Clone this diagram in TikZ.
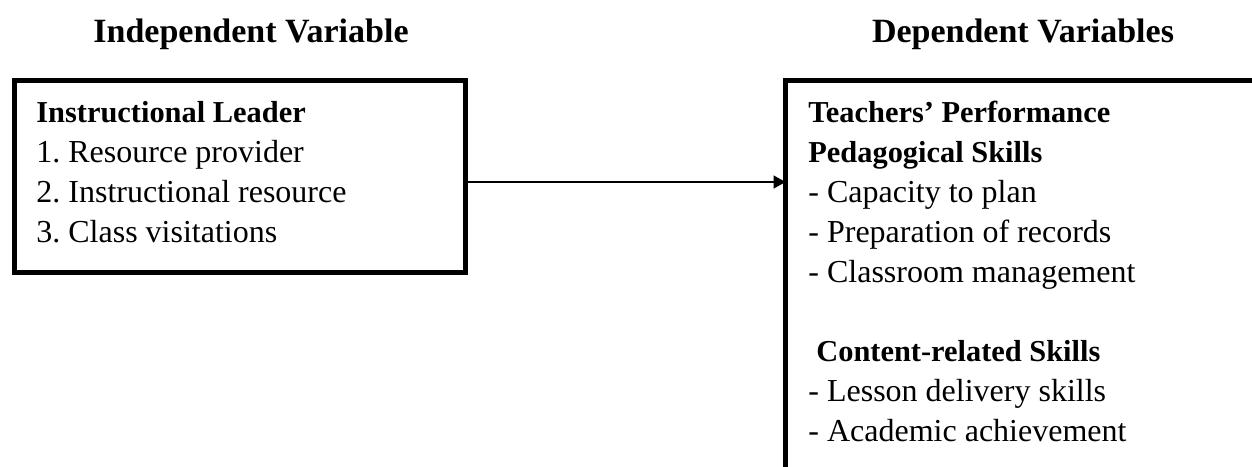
\documentclass[tikz,border=0pt]{standalone}
\usepackage{fontspec}
\setmainfont{Liberation Serif}
\usetikzlibrary{positioning,arrows.meta}
\frenchspacing
\begin{document}
\begin{tikzpicture}[x=0.5pt,y=-0.5pt]
% page frame
\useasboundingbox (0,0) rectangle (1252,466);
\clip (0,0) rectangle (1252,466);

\tikzstyle{head} = [font=\fontsize{17}{20}\selectfont\bfseries, inner sep=0pt, anchor=base]
\tikzstyle{frame} = [draw, shape=rectangle, line width=2.5pt, inner sep=0pt, outer sep=0pt, anchor=north west]
\tikzstyle{body} = [font=\fontsize{16}{20}\selectfont, inner sep=0pt, anchor=base west]
\tikzstyle{bodyb} = [body, font=\fontsize{15.2}{20}\selectfont\bfseries]
\tikzstyle{arr} = [-{Triangle[length=6pt,width=6.5pt]}, line width=0.75pt]

% headings
\node[head] (indep) at (251,42) {Independent Variable};
\node[head] (dep) at (1023,42) {Dependent Variables};

% boxes
\node[frame, minimum width=225.5pt, minimum height=96pt] (leader) at (14,80) {};
\node[frame, minimum width=300pt, minimum height=230pt] (perf) at (785.5,80) {};

% left box text
\node[bodyb] (lt0) at (36,122) {Instructional Leader};
\foreach \txt [count=\i] in {1. Resource provider, 2. Instructional resource, 3. Class visitations}
  \node[body] (lt\i) at (36,122+40*\i) {\txt};

% right box text
\node[bodyb] (rt0) at (808,122) {Teachers' Performance};
\node[bodyb] (rt1) at (808,162) {Pedagogical Skills};
\foreach \txt [count=\i] in {- Capacity to plan, - Preparation of records, - Classroom management}
  \node[body] (rp\i) at (808,162+40*\i) {\txt};
\node[bodyb] (rt2) at (816,361) {Content-related Skills};
\foreach \txt [count=\i] in {- Lesson delivery skills, - Academic achievement}
  \node[body] (rc\i) at (808,361+40*\i) {\txt};

% link
\draw[arr] ([yshift=-3pt]leader.east) -- ([yshift=-3pt]leader.east -| perf.west);

\end{tikzpicture}
\end{document}
